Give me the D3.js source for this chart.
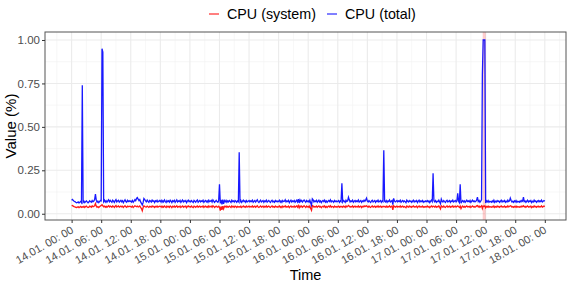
<!DOCTYPE html>
<html>
<head>
<meta charset="utf-8">
<script src="https://cdn.jsdelivr.net/npm/d3@7"></script>
<style>
  body { margin: 0; background: #fff; }
  text { font-family: "Liberation Sans", Arial, sans-serif; }
</style>
</head>
<body>
<div class="chart"></div>
<script>
var width = 573,
    height = 287;
var margin = {top: 32, right: 7, bottom: 67, left: 45};

// samples every 10 minutes, starting 14.01. 00:00
// values are given in thousandths (72 = 0.072)
var startTime = new Date(2019, 0, 14, 0, 0);
var stepMinutes = 10;

var cpuTotal = [
  78,82,77,72,70,66,63,65,68,62,67,71,64,740,66,72,64,70,74,68,63,67,75,70,66,76,69,73,82,113,78,66,72,64,70,76,
  74,950,930,70,78,67,75,66,74,80,69,77,71,66,78,73,65,75,81,68,74,78,67,72,77,69,75,64,73,80,70,66,77,70,75,71,
  73,67,76,66,72,81,75,88,93,84,76,82,68,60,50,64,88,82,74,69,79,71,66,76,73,67,78,71,75,65,74,70,77,68,72,76,
  70,77,66,75,68,79,71,65,76,69,74,67,78,72,64,75,70,77,66,73,80,68,74,70,77,65,72,79,68,75,70,76,64,73,78,69,
  74,68,76,70,65,77,72,67,74,79,66,72,76,68,74,70,78,65,72,76,68,74,66,78,70,72,77,67,80,73,65,71,77,70,66,75,
  170,60,80,54,82,57,76,69,77,66,74,68,76,71,65,78,70,74,67,76,72,66,74,70,354,68,76,65,72,78,69,74,66,76,69,72,
  76,68,74,70,78,66,72,76,67,74,80,70,65,73,78,68,72,76,66,74,70,78,67,72,76,70,65,74,78,68,72,66,76,70,74,68,
  72,78,67,74,66,76,70,72,80,68,74,70,77,64,72,78,68,74,70,76,66,72,78,68,84,62,80,70,76,67,74,79,72,66,76,70,
  74,67,78,62,50,86,80,68,74,70,77,66,72,78,68,74,64,72,76,70,78,67,74,66,72,76,70,80,68,74,72,66,76,70,74,68,
  72,76,66,74,70,175,68,76,72,65,78,70,74,95,80,68,74,70,78,66,72,76,68,74,70,79,67,72,76,66,74,70,78,72,80,90,
  72,68,76,70,65,74,78,68,72,76,66,74,70,78,68,72,76,66,74,70,366,72,68,76,66,74,70,79,68,72,76,52,88,74,68,72,
  76,68,74,70,78,66,72,76,68,74,70,64,78,72,68,76,70,74,66,72,78,68,74,70,76,64,72,78,68,74,70,76,66,72,68,74,
  70,76,68,74,64,72,78,70,233,74,68,76,66,72,70,78,68,58,84,72,68,76,70,65,74,78,68,72,76,66,74,70,78,68,72,76,
  68,74,118,72,64,170,60,70,76,68,74,66,72,78,70,74,68,76,65,72,78,70,74,68,72,78,95,70,76,66,72,82,800,1000,1000,1000,
  62,74,68,76,66,72,70,66,74,68,78,65,72,68,76,70,74,66,72,78,68,74,70,76,66,72,68,78,70,74,90,76,68,72,66,74,
  68,76,66,72,70,66,74,68,76,72,95,70,74,66,72,78,68,74,70,76,64,72,68,78,70,74,66,72,76,68,74,70,78,68,72,76,
  72
];

var cpuSystem = [
  46,48,44,41,39,37,36,38,40,35,39,42,37,40,38,43,36,41,44,39,36,38,44,41,37,45,40,42,47,58,44,37,41,36,40,44,
  48,52,46,40,44,38,43,37,42,46,39,44,41,37,45,42,36,43,47,39,42,45,38,41,44,39,43,36,42,46,40,37,44,40,43,41,
  42,38,44,36,41,46,43,40,44,39,41,45,37,30,17,35,46,42,39,38,44,40,37,43,41,38,45,40,43,36,42,39,44,38,41,43,
  40,44,37,43,38,45,40,36,44,39,42,37,45,41,35,43,39,44,37,41,46,38,42,39,44,36,41,45,38,43,39,44,35,42,45,39,
  42,38,44,39,36,44,41,37,42,45,37,41,44,38,42,39,45,36,41,44,38,42,37,45,39,41,44,37,46,42,36,40,44,39,37,43,
  38,18,42,22,44,28,43,39,44,37,42,38,44,40,36,45,39,42,37,44,41,36,42,39,41,38,44,36,41,45,38,42,37,44,39,41,
  44,38,42,39,45,37,41,44,37,42,46,39,36,41,45,38,41,44,37,42,39,45,37,41,44,39,36,42,45,38,41,37,44,39,42,38,
  41,45,37,42,36,44,39,41,46,38,42,39,44,35,41,45,38,42,39,44,37,41,45,38,47,34,45,39,44,37,42,46,41,36,44,39,
  42,37,45,30,20,47,44,38,42,39,44,37,41,45,38,42,35,41,44,39,45,37,42,36,41,44,39,46,38,42,41,36,44,39,42,38,
  41,44,37,42,39,43,38,44,41,36,45,39,42,48,44,38,42,39,45,37,41,44,38,42,39,45,37,41,44,36,42,39,45,41,44,46,
  41,38,44,39,36,42,45,38,41,44,37,42,39,45,38,41,44,37,42,39,43,41,38,44,37,42,39,45,38,41,44,22,46,42,38,41,
  44,38,42,39,45,37,41,44,38,42,39,35,45,41,38,44,39,42,37,41,45,38,42,39,44,35,41,45,38,42,39,44,37,41,38,42,
  39,44,38,42,35,41,45,39,43,42,38,44,37,41,39,45,38,28,46,41,38,44,39,36,42,45,38,41,44,37,42,39,45,38,41,44,
  38,42,45,41,36,44,30,39,44,38,42,37,41,45,39,42,38,44,36,41,45,39,42,38,41,45,47,39,44,37,41,46,30,45,42,46,
  34,42,38,44,37,41,39,37,42,38,45,36,41,38,44,39,42,37,41,45,38,42,39,44,37,41,38,45,39,42,46,44,38,41,37,42,
  38,44,37,41,39,37,42,38,44,41,46,39,42,37,41,45,38,42,39,44,35,41,38,45,39,42,37,41,44,38,42,39,45,38,41,44,
  41
];

// highlighted interval (17.01. around noon)
var bandStart = new Date(2019, 0, 17, 11, 24);
var bandEnd = new Date(2019, 0, 17, 12, 0);

var xDomain = [new Date(2019, 0, 13, 18, 36), new Date(2019, 0, 18, 4, 18)];
var yDomain = [-0.036, 1.046];
var yTicks = [0, 0.25, 0.5, 0.75, 1];
var yMinor = [0.125, 0.375, 0.625, 0.875];

var seriesNames = ['CPU (system)', 'CPU (total)'];
var seriesColors = ['#ff0000', '#0000ff'];

function timeAt(i) {
    return new Date(startTime.getTime() + i * stepMinutes * 60000);
}

var plotW = width - margin.left - margin.right,
    plotH = height - margin.top - margin.bottom;

var x = d3.scaleTime().domain(xDomain).range([0, plotW]);
var y = d3.scaleLinear().domain(yDomain).range([plotH, 0]);

var svg = d3.select(".chart").append("svg")
    .attr("width", width)
    .attr("height", height);

var g = svg.append("g")
    .attr("transform", "translate(" + margin.left + "," + margin.top + ")");

var xTicks = x.ticks(d3.timeHour.every(6));
var xMinor = xTicks.map(function (d) { return d3.timeHour.offset(d, 3); })
    .concat([d3.timeHour.offset(xTicks[0], -3)])
    .filter(function (d) { return d >= xDomain[0] && d <= xDomain[1]; });

// grid
g.selectAll(".ygridminor").data(yMinor).enter().append("line")
    .attr("x1", 0).attr("x2", plotW)
    .attr("y1", function (d) { return y(d); }).attr("y2", function (d) { return y(d); })
    .attr("stroke", "#f2f2f2").attr("stroke-width", 0.6);
g.selectAll(".xgridminor").data(xMinor).enter().append("line")
    .attr("y1", 0).attr("y2", plotH)
    .attr("x1", function (d) { return x(d); }).attr("x2", function (d) { return x(d); })
    .attr("stroke", "#f2f2f2").attr("stroke-width", 0.6);
g.selectAll(".ygrid").data(yTicks).enter().append("line")
    .attr("x1", 0).attr("x2", plotW)
    .attr("y1", function (d) { return y(d); }).attr("y2", function (d) { return y(d); })
    .attr("stroke", "#ebebeb").attr("stroke-width", 1.1);
g.selectAll(".xgrid").data(xTicks).enter().append("line")
    .attr("y1", 0).attr("y2", plotH)
    .attr("x1", function (d) { return x(d); }).attr("x2", function (d) { return x(d); })
    .attr("stroke", "#ebebeb").attr("stroke-width", 1.1);

// band
g.append("rect")
    .attr("x", x(bandStart))
    .attr("width", x(bandEnd) - x(bandStart))
    .attr("y", 0)
    .attr("height", plotH)
    .attr("fill", "#ff0000")
    .attr("opacity", 0.2);

// lines
var line = d3.line()
    .x(function (d, i) { return x(timeAt(i)); })
    .y(function (d) { return y(d / 1000); });

[cpuSystem, cpuTotal].forEach(function (s, k) {
    g.append("path")
        .datum(s)
        .attr("d", line)
        .attr("fill", "none")
        .attr("stroke", seriesColors[k])
        .attr("stroke-width", 1.3)
        .attr("stroke-opacity", 0.9);
});

// border
g.append("rect")
    .attr("width", plotW).attr("height", plotH)
    .attr("fill", "none").attr("stroke", "#555").attr("stroke-width", 1);

// axes
var yAxis = g.append("g")
    .call(d3.axisLeft(y).tickValues(yTicks).tickFormat(d3.format(".2f")).tickSize(3).tickPadding(2));
var xAxis = g.append("g")
    .attr("transform", "translate(0," + plotH + ")")
    .call(d3.axisBottom(x).tickValues(xTicks).tickFormat(d3.timeFormat("%d.%m. %H: %M")).tickSize(3).tickPadding(2));

[yAxis, xAxis].forEach(function (a) {
    a.select(".domain").remove();
    a.selectAll(".tick line").attr("stroke", "#333");
    a.selectAll("text").attr("fill", "#4d4d4d").style("font-size", "11.5px")
        .style("font-family", "'Liberation Sans', Arial, sans-serif");
});

// rotated labels: top-right corner sits just under the tick
xAxis.selectAll("text")
    .style("font-size", "11px")
    .style("text-anchor", "end")
    .attr("x", 0)
    .attr("y", 0)
    .attr("dy", "0.75em")
    .attr("transform", "translate(-2,5) rotate(-30)");

// titles
svg.append("text")
    .attr("x", margin.left + plotW / 2)
    .attr("y", height - 7)
    .attr("text-anchor", "middle")
    .style("font-size", "14.5px")
    .text("Time");

svg.append("text")
    .attr("transform", "translate(16," + (margin.top + plotH / 2) + ") rotate(-90)")
    .attr("text-anchor", "middle")
    .style("font-size", "15px")
    .text("Value (%)");

// legend
var legendX = [209, 327];
var legend = svg.selectAll(".legend")
    .data(seriesNames)
    .enter().append("g")
    .attr("transform", function (d, i) { return "translate(" + legendX[i] + ",14)"; });
legend.append("line")
    .attr("x1", 0).attr("x2", 10)
    .attr("stroke", function (d, i) { return seriesColors[i]; })
    .attr("stroke-width", 1);
legend.append("text")
    .attr("x", 18)
    .attr("dy", "0.35em")
    .style("font-size", "14.3px")
    .text(function (d) { return d; });
</script>
</body>
</html>
